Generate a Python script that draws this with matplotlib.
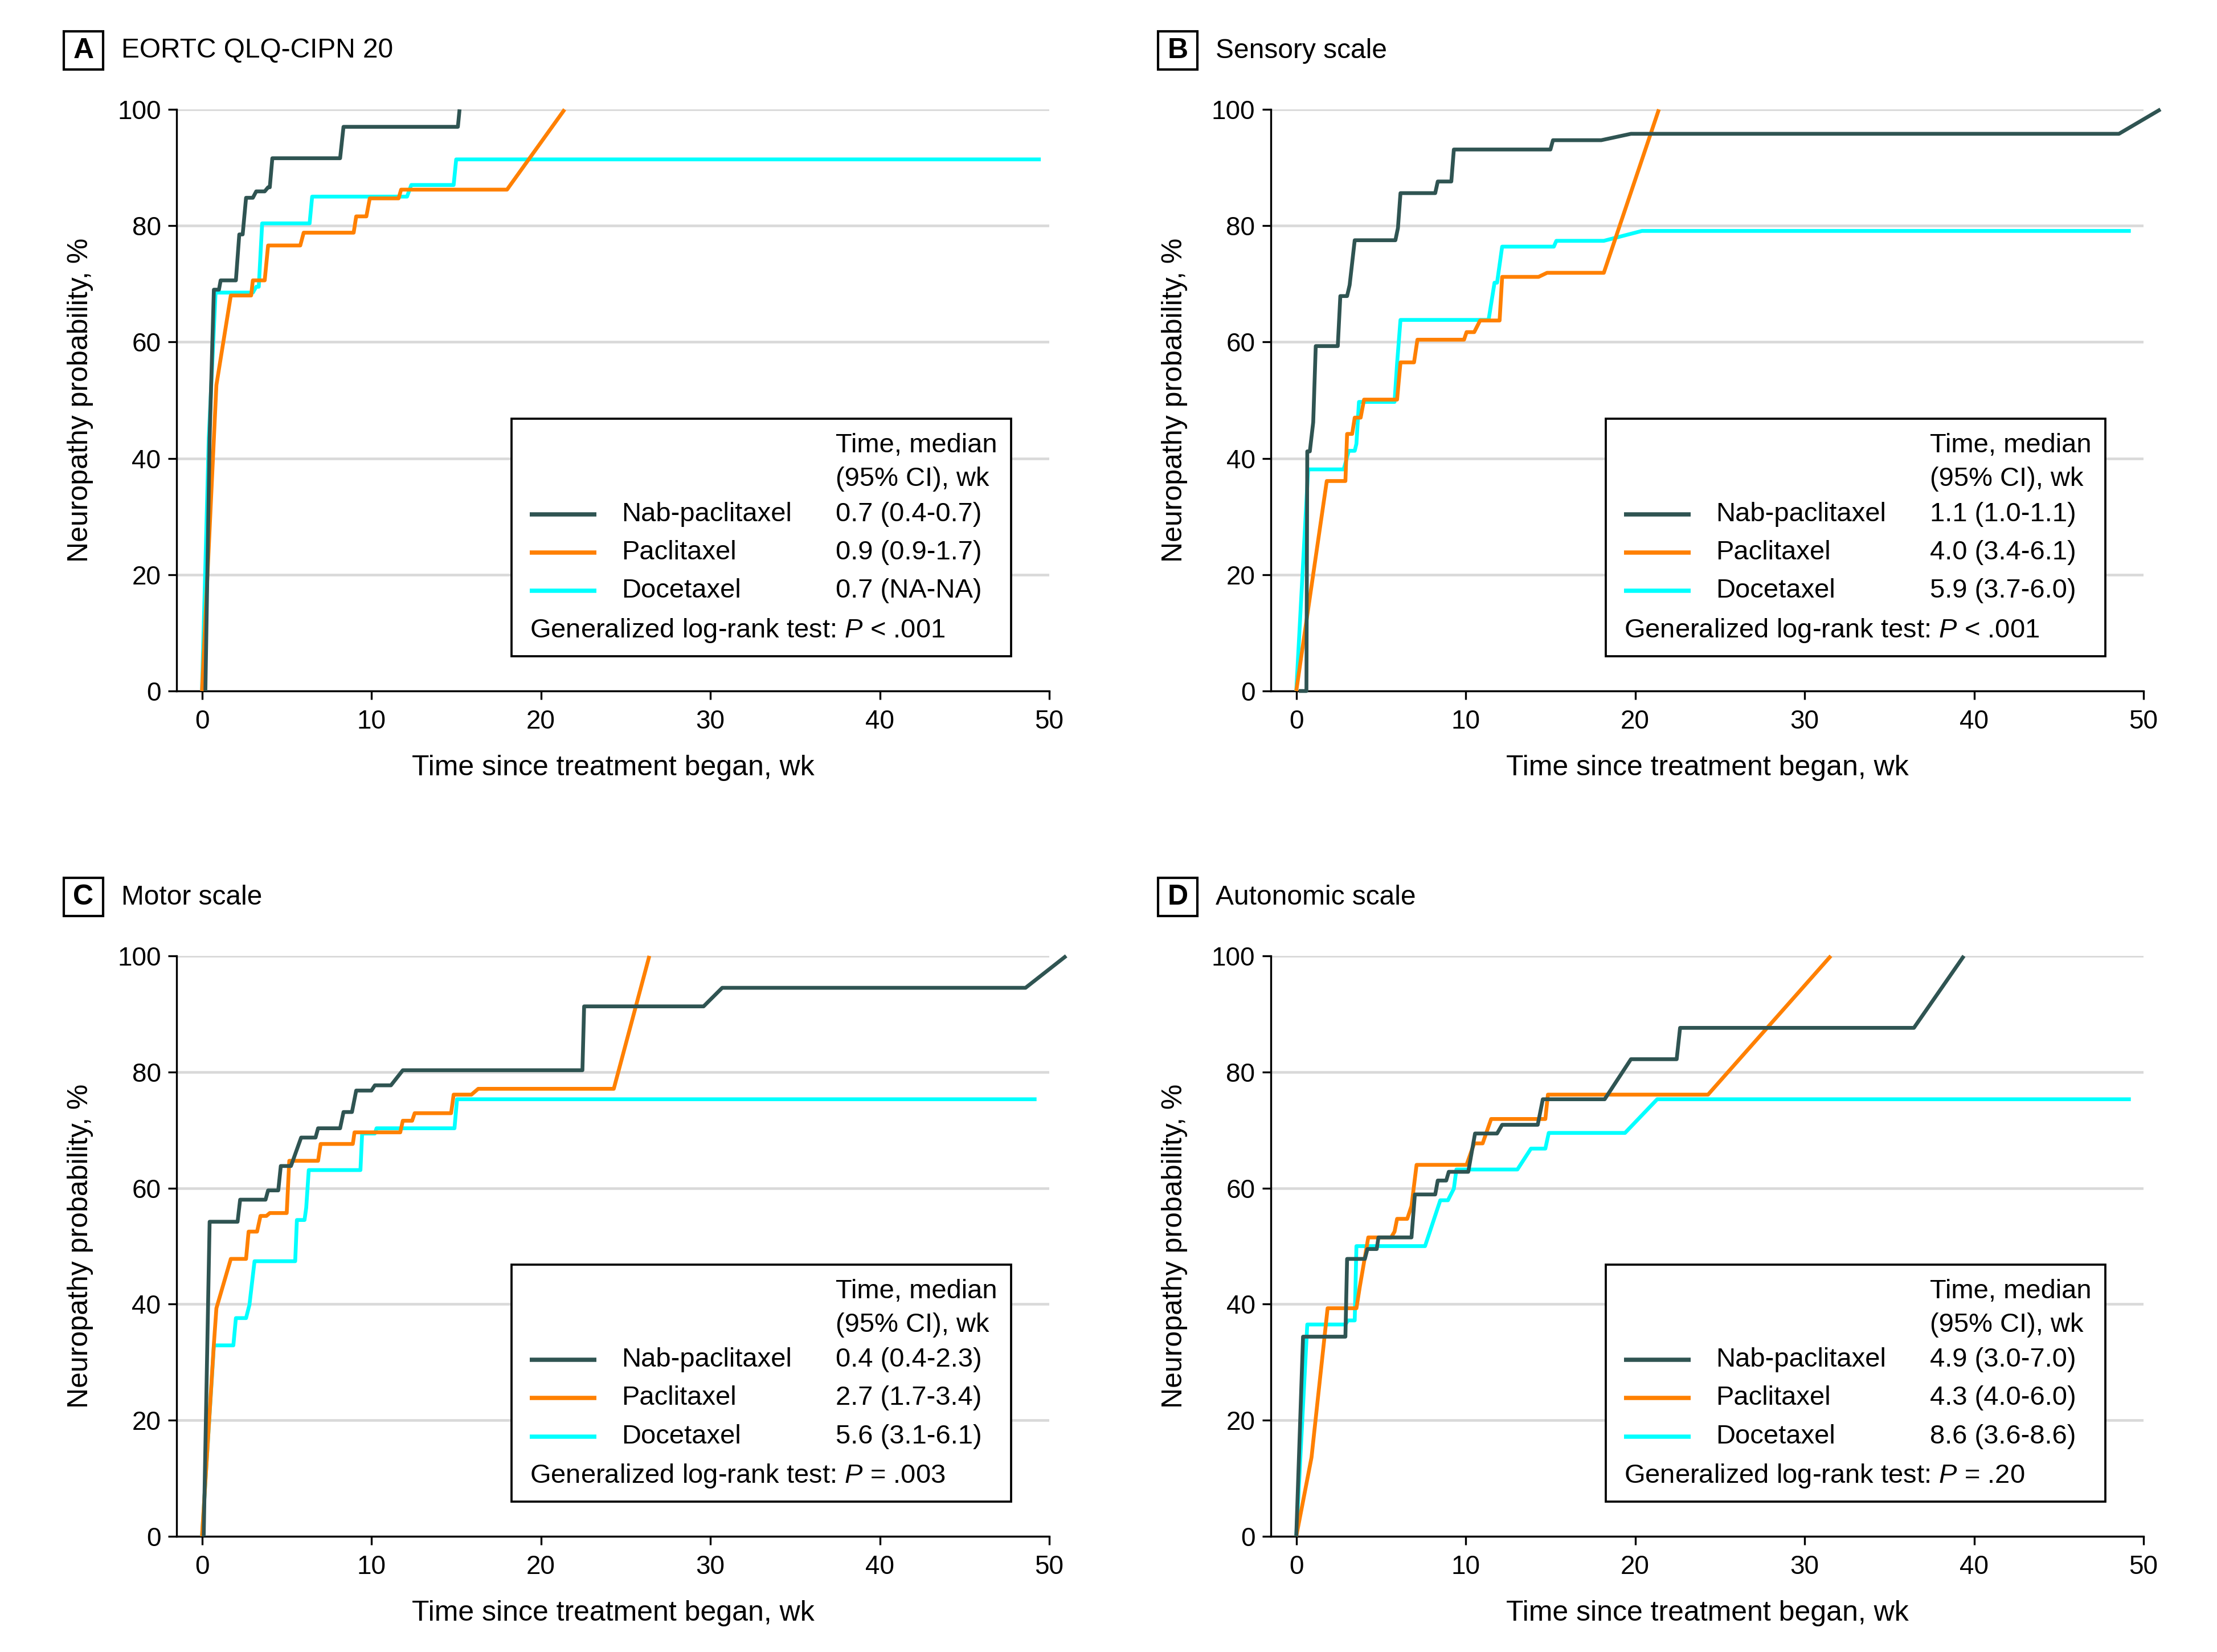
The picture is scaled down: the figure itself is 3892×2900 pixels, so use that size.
import matplotlib
matplotlib.use("Agg")
import matplotlib.pyplot as plt
from matplotlib import rcParams
from matplotlib.patches import Rectangle

### style ###################################################################
config = {"font.family": ['Liberation Sans', 'DejaVu Sans'],
          "font.size": 11,
          "mathtext.fontset": 'custom',
          "mathtext.rm": 'Liberation Sans',
          "mathtext.it": 'Liberation Sans:italic'}
rcParams.update(config)

C_NAB = '#2f5452'
C_PAC = '#ff8000'
C_DOC = '#00ffff'

### data ####################################################################
# A: EORTC QLQ-CIPN 20
A_NAB_T = [0.2, 0.45, 0.7, 1.0, 1.1, 2.0, 2.2, 2.4, 2.6, 3.0, 3.2, 3.7, 3.9, 4.0, 4.15, 8.15, 8.35, 15.1, 15.2]
A_NAB_P = [0, 43.5, 69, 69, 70.6, 70.6, 78.5, 78.5, 84.8, 84.8, 85.9, 85.9, 86.6, 86.6, 91.6, 91.6, 97, 97, 100]
A_PAC_T = [0, 0.85, 1.7, 2.9, 3.0, 3.7, 3.9, 5.8, 6.0, 8.95, 9.1, 9.7, 9.9, 11.6, 11.75, 18.0, 21.4]
A_PAC_P = [0, 52.6, 68, 68, 70.6, 70.6, 76.6, 76.6, 78.8, 78.8, 81.6, 81.6, 84.7, 84.7, 86.2, 86.2, 100]
A_DOC_T = [0, 0.4, 0.8, 3.0, 3.2, 3.35, 3.55, 6.35, 6.5, 12.1, 12.35, 14.85, 15.0, 49.5]
A_DOC_P = [0, 43.5, 68.5, 68.5, 69.5, 69.5, 80.4, 80.4, 85, 85, 87, 87, 91.4, 91.4]

# B: Sensory scale
B_NAB_T = [0.15, 0.6, 0.65, 0.8, 1.0, 1.15, 2.45, 2.6, 3.0, 3.15, 3.45, 5.85, 6.0, 6.15, 8.2, 8.35,
           9.15, 9.3, 15.0, 15.15, 18.0, 19.75, 48.55, 51.0]
B_NAB_P = [0, 0, 41.2, 41.2, 46.2, 59.3, 59.3, 67.9, 67.9, 69.8, 77.5, 77.5, 79.6, 85.6, 85.6, 87.6,
           87.6, 93.1, 93.1, 94.7, 94.7, 95.8, 95.8, 100]
B_PAC_T = [0, 1.8, 2.9, 3.0, 3.3, 3.45, 3.8, 4.0, 5.95, 6.15, 6.95, 7.15, 9.9, 10.05, 10.5, 10.85,
           12.0, 12.15, 14.3, 14.8, 18.15, 21.4]
B_PAC_P = [0, 36.1, 36.1, 44.2, 44.2, 47, 47, 50.1, 50.1, 56.5, 56.5, 60.4, 60.4, 61.7, 61.7, 63.7,
           63.7, 71.2, 71.2, 71.9, 71.9, 100]
B_DOC_T = [0, 0.7, 2.8, 3.1, 3.45, 3.55, 3.7, 5.8, 5.95, 6.15, 11.35, 11.7, 11.85, 12.15, 15.2, 15.35,
           18.15, 20.4, 49.25]
B_DOC_P = [0, 38.1, 38.1, 41.3, 41.3, 42.5, 49.7, 49.7, 56.3, 63.8, 63.8, 70.2, 70.2, 76.4, 76.4, 77.4,
           77.4, 79.1, 79.1]

# C: Motor scale
C_NAB_T = [0.1, 0.45, 2.1, 2.25, 3.75, 3.9, 4.5, 4.65, 5.25, 5.85, 6.7, 6.85, 8.15, 8.35, 8.85, 9.1,
           10.0, 10.2, 11.15, 11.85, 22.45, 22.55, 29.6, 30.7, 48.6, 51.0]
C_NAB_P = [0, 54.2, 54.2, 58, 58, 59.6, 59.6, 63.8, 63.8, 68.7, 68.7, 70.3, 70.3, 73.1, 73.1, 76.8,
           76.8, 77.7, 77.7, 80.3, 80.3, 91.3, 91.3, 94.5, 94.5, 100]
C_PAC_T = [0, 0.7, 0.85, 1.7, 2.6, 2.75, 3.25, 3.45, 3.8, 4.0, 5.0, 5.15, 6.85, 7.0, 8.9, 9.0, 11.7,
           11.85, 12.4, 12.55, 14.7, 14.85, 15.9, 16.3, 24.3, 26.4]
C_PAC_P = [0, 33.1, 39.3, 47.8, 47.8, 52.5, 52.5, 55.2, 55.2, 55.7, 55.7, 64.7, 64.7, 67.6, 67.6, 69.6,
           69.6, 71.6, 71.6, 72.9, 72.9, 76.1, 76.1, 77.1, 77.1, 100]
C_DOC_T = [0, 0.7, 1.85, 2.0, 2.6, 2.8, 3.1, 5.5, 5.6, 6.05, 6.15, 6.3, 9.35, 9.45, 10.2, 10.3, 14.9,
           15.05, 49.25]
C_DOC_P = [0, 32.9, 32.9, 37.6, 37.6, 39.9, 47.4, 47.4, 54.5, 54.5, 56.6, 63.1, 63.1, 69.4, 69.4, 70.3,
           70.3, 75.3, 75.3]

# D: Autonomic scale
D_NAB_T = [0, 0.4, 2.9, 3.0, 4.05, 4.2, 4.75, 4.85, 6.8, 7.0, 8.2, 8.35, 8.85, 9.0, 10.15, 10.55,
           11.85, 12.15, 14.25, 14.55, 18.2, 19.75, 22.45, 22.65, 36.45, 39.4]
D_NAB_P = [0, 34.4, 34.4, 47.8, 47.8, 49.5, 49.5, 51.5, 51.5, 58.9, 58.9, 61.3, 61.3, 62.8, 62.8, 69.4,
           69.4, 70.9, 70.9, 75.3, 75.3, 82.2, 82.2, 87.6, 87.6, 100]
D_PAC_T = [0, 0.9, 1.85, 3.55, 3.75, 4.25, 5.6, 5.8, 5.95, 6.55, 6.8, 7.1, 10.05, 10.5, 11.0, 11.5,
           14.7, 14.85, 24.3, 31.55]
D_PAC_P = [0, 13.6, 39.3, 39.3, 43, 51.5, 51.5, 52.5, 54.7, 54.7, 56.9, 64, 64, 67.7, 67.7, 71.9,
           71.9, 76.1, 76.1, 100]
D_DOC_T = [0, 0.65, 2.9, 3.05, 3.45, 3.55, 7.6, 8.5, 8.95, 9.3, 9.45, 13.05, 13.85, 14.7, 14.9, 19.4,
           21.3, 49.25]
D_DOC_P = [0, 36.5, 36.5, 37.2, 37.2, 50, 50, 57.9, 57.9, 59.9, 63.2, 63.2, 66.8, 66.8, 69.5, 69.5,
           75.3, 75.3]

letters = ['A', 'B', 'C', 'D']
titles = ['EORTC QLQ-CIPN 20', 'Sensory scale', 'Motor scale', 'Autonomic scale']
groups = ['Nab-paclitaxel', 'Paclitaxel', 'Docetaxel']
medians = [['0.7 (0.4-0.7)', '0.9 (0.9-1.7)', '0.7 (NA-NA)'],
           ['1.1 (1.0-1.1)', '4.0 (3.4-6.1)', '5.9 (3.7-6.0)'],
           ['0.4 (0.4-2.3)', '2.7 (1.7-3.4)', '5.6 (3.1-6.1)'],
           ['4.9 (3.0-7.0)', '4.3 (4.0-6.0)', '8.6 (3.6-8.6)']]
pvals = ['< .001', '< .001', '= .003', '= .20']

curves = [[(A_NAB_T, A_NAB_P), (A_PAC_T, A_PAC_P), (A_DOC_T, A_DOC_P)],
          [(B_NAB_T, B_NAB_P), (B_PAC_T, B_PAC_P), (B_DOC_T, B_DOC_P)],
          [(C_NAB_T, C_NAB_P), (C_PAC_T, C_PAC_P), (C_DOC_T, C_DOC_P)],
          [(D_NAB_T, D_NAB_P), (D_PAC_T, D_PAC_P), (D_DOC_T, D_DOC_P)]]
colors = [C_NAB, C_PAC, C_DOC]

### layout (pixel boxes of each plot area: left, top, right, bottom) ########
W, H = 3892, 2900
boxes = [(310, 192, 1842, 1213), (2231, 192, 3763, 1213),
         (310, 1678, 1842, 2697), (2231, 1678, 3763, 2697)]

def fx(px):
    return px / W

def fy(py):
    return 1 - py / H

fig = plt.figure(figsize=(W / 300, H / 300), dpi=300)

for k in range(4):
    l, t, r, b = boxes[k]
    ax = fig.add_axes([fx(l), fy(b), fx(r) - fx(l), fy(t) - fy(b)])

    # curves: docetaxel first, nab-paclitaxel on top
    for i in [2, 1, 0]:
        tt, pp = curves[k][i]
        ax.plot(tt, pp, color=colors[i], lw=1.6, clip_on=False,
                solid_capstyle='butt', zorder=3 + (2 - i))

    ax.set_xlim(-1.5, 50)
    ax.set_ylim(0, 100)
    ax.set_xticks(range(0, 51, 10))
    ax.set_yticks(range(0, 101, 20))
    ax.grid(axis='y', color='#d9d9d9', lw=1.1)
    ax.set_axisbelow(True)
    for s in ['top', 'right']:
        ax.spines[s].set_visible(False)
    for s in ['left', 'bottom']:
        ax.spines[s].set_linewidth(0.8)
    ax.tick_params(length=3.6, width=0.8, pad=3, labelsize=11)
    ax.tick_params(axis='x', pad=4)

    ax.set_xlabel('Time since treatment began, wk', fontsize=12)
    ax.set_ylabel('Neuropathy probability, %', fontsize=12)
    ax.xaxis.label.set_va('center')
    ax.yaxis.label.set_va('center')
    ax.xaxis.set_label_coords(0.5, -135 / (b - t))
    ax.yaxis.set_label_coords(-169 / (r - l), 0.5)

    # legend box
    ax.add_patch(Rectangle((0.384, 0.060), 0.572, 0.408, transform=ax.transAxes,
                           facecolor='white', edgecolor='black', lw=0.9, zorder=6))
    ax.text(0.755, 0.422, 'Time, median', transform=ax.transAxes,
            va='center', ha='left', fontsize=11.3, zorder=7)
    ax.text(0.755, 0.364, '(95% CI), wk', transform=ax.transAxes,
            va='center', ha='left', fontsize=11.3, zorder=7)
    rows_y = [0.304, 0.238, 0.172]
    for i in range(3):
        ax.plot([0.405, 0.481], [rows_y[i], rows_y[i]], transform=ax.transAxes,
                color=colors[i], lw=1.8, solid_capstyle='butt', zorder=7)
        ax.text(0.510, rows_y[i], groups[i], transform=ax.transAxes,
                va='center', ha='left', fontsize=11.3, zorder=7)
        ax.text(0.755, rows_y[i], medians[k][i], transform=ax.transAxes,
                va='center', ha='left', fontsize=11.3, zorder=7)
    ax.text(0.405, 0.104, 'Generalized log-rank test: $P$ ' + pvals[k], transform=ax.transAxes,
            va='center', ha='left', fontsize=11.3, zorder=7)

    # panel letter box and title
    fig.add_artist(Rectangle((fx(l - 198), fy(t - 70)), fx(69), 67 / H,
                             transform=fig.transFigure, facecolor='none',
                             edgecolor='black', lw=1.0))
    fig.text(fx(l - 198 + 34.5), fy(t - 103), letters[k], ha='center', va='center',
             fontsize=12, fontweight='bold')
    fig.text(fx(l - 97), fy(t - 103), titles[k], ha='left', va='center', fontsize=11.5)

fig.savefig('out.png', dpi=300)
